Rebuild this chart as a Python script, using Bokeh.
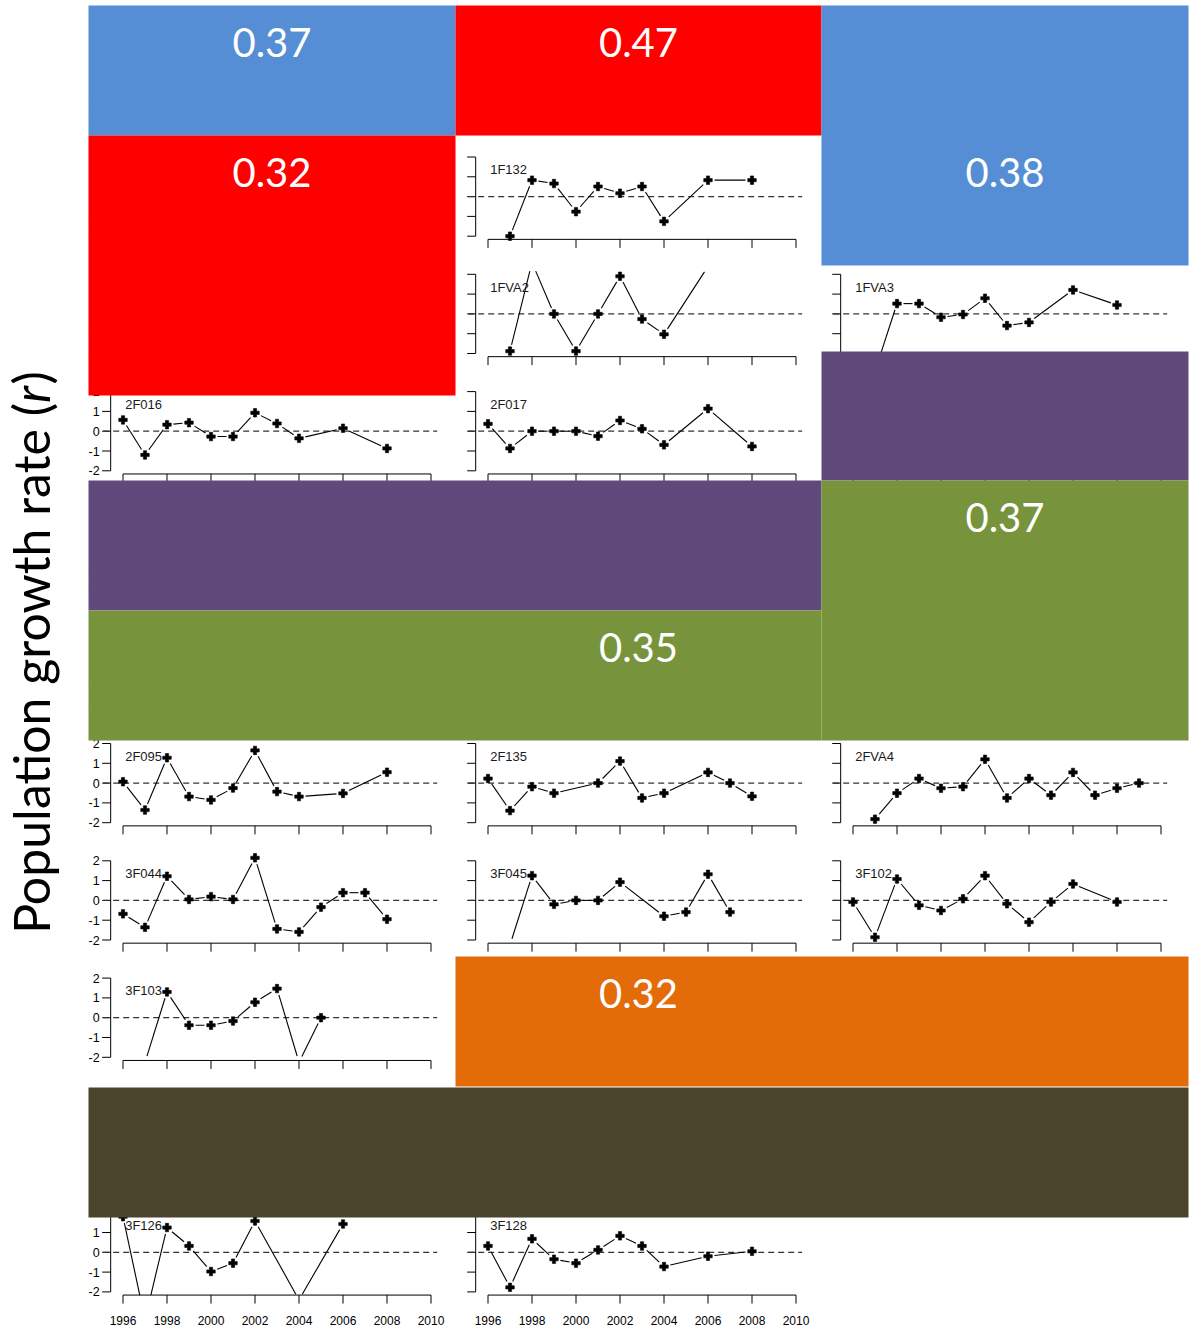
import math
from bokeh.plotting import figure
from bokeh.models import Range1d
from bokeh.core.properties import value
from bokeh.embed import file_html
from bokeh.resources import INLINE

# ---------------- data ----------------
YEARS_1F132 = [1997, 1998, 1999, 2000, 2001, 2002, 2003, 2004, 2006, 2008]
R_1F132 = [-2.0, 0.83, 0.66, -0.76, 0.51, 0.17, 0.51, -1.25, 0.83, 0.83]

YEARS_1FVA2 = [1997, 1998, 1999, 2000, 2001, 2002, 2003, 2004, 2006]
R_1FVA2 = [-1.88, 2.6, 0.0, -1.88, 0.0, 1.9, -0.26, -1.03, 2.4]

YEARS_1FVA3 = [1997, 1998, 1999, 2000, 2001, 2002, 2003, 2004, 2006, 2008]
R_1FVA3 = [-2.9, 0.52, 0.52, -0.17, -0.03, 0.79, -0.59, -0.43, 1.21, 0.45]

YEARS_2F016 = [1996, 1997, 1998, 1999, 2000, 2001, 2002, 2003, 2004, 2006, 2008]
R_2F016 = [0.57, -1.2, 0.33, 0.43, -0.27, -0.27, 0.93, 0.39, -0.36, 0.15, -0.87]

YEARS_2F017 = [1996, 1997, 1998, 1999, 2000, 2001, 2002, 2003, 2004, 2006, 2008]
R_2F017 = [0.37, -0.87, 0.0, 0.0, 0.0, -0.25, 0.54, 0.12, -0.69, 1.14, -0.77]

YEARS_2F095 = [1996, 1997, 1998, 1999, 2000, 2001, 2002, 2003, 2004, 2006, 2008]
R_2F095 = [0.07, -1.36, 1.28, -0.68, -0.85, -0.25, 1.65, -0.43, -0.68, -0.52, 0.55]

YEARS_2F135 = [1996, 1997, 1998, 1999, 2001, 2002, 2003, 2004, 2006, 2007, 2008]
R_2F135 = [0.23, -1.39, -0.18, -0.51, 0.0, 1.11, -0.75, -0.51, 0.54, 0.0, -0.67]

YEARS_2FVA4 = [1997, 1998, 1999, 2000, 2001, 2002, 2003, 2004, 2005, 2006, 2007, 2008, 2009]
R_2FVA4 = [-1.82, -0.51, 0.23, -0.26, -0.18, 1.2, -0.75, 0.23, -0.61, 0.54, -0.61, -0.26, 0.0]

YEARS_3F044 = [1996, 1997, 1998, 1999, 2000, 2001, 2002, 2003, 2004, 2005, 2006, 2007, 2008]
R_3F044 = [-0.68, -1.36, 1.22, 0.05, 0.19, 0.05, 2.15, -1.44, -1.59, -0.34, 0.39, 0.39, -0.95]

YEARS_3F045 = [1997, 1998, 1999, 2000, 2001, 2002, 2004, 2005, 2006, 2007]
R_3F045 = [-2.25, 1.25, -0.2, 0.0, 0.0, 0.92, -0.8, -0.59, 1.32, -0.59]

YEARS_3F102 = [1996, 1997, 1998, 1999, 2000, 2001, 2002, 2003, 2004, 2005, 2006, 2008]
R_3F102 = [-0.08, -1.86, 1.08, -0.25, -0.51, 0.08, 1.25, -0.17, -1.1, -0.08, 0.83, -0.08]

YEARS_3F103 = [1997, 1998, 1999, 2000, 2001, 2002, 2003, 2004, 2005]
R_3F103 = [-2.25, 1.3, -0.38, -0.38, -0.17, 0.78, 1.47, -2.25, 0.0]

YEARS_3F126 = [1996, 1997, 1998, 1999, 2000, 2001, 2002, 2004, 2006]
R_3F126 = [1.8, -3.4, 1.25, 0.32, -0.97, -0.55, 1.58, -2.4, 1.43]

YEARS_3F128 = [1996, 1997, 1998, 1999, 2000, 2001, 2002, 2003, 2004, 2006, 2008]
R_3F128 = [0.32, -1.77, 0.68, -0.35, -0.55, 0.12, 0.83, 0.32, -0.72, -0.2, 0.05]

PANEL_NAMES = ["1F132", "1FVA2", "1FVA3", "2F016", "2F017", "2F095", "2F135",
               "2FVA4", "3F044", "3F045", "3F102", "3F103", "3F126", "3F128"]
PANEL_YEARS = [YEARS_1F132, YEARS_1FVA2, YEARS_1FVA3, YEARS_2F016, YEARS_2F017,
               YEARS_2F095, YEARS_2F135, YEARS_2FVA4, YEARS_3F044, YEARS_3F045,
               YEARS_3F102, YEARS_3F103, YEARS_3F126, YEARS_3F128]
PANEL_R = [R_1F132, R_1FVA2, R_1FVA3, R_2F016, R_2F017, R_2F095, R_2F135,
           R_2FVA4, R_3F044, R_3F045, R_3F102, R_3F103, R_3F126, R_3F128]
# grid slot (row, column) of each named panel
PANEL_ROW = [1, 2, 2, 3, 3, 6, 6, 6, 7, 7, 7, 8, 10, 10]
PANEL_COL = [1, 1, 2, 0, 1, 0, 1, 2, 0, 1, 2, 0, 0, 1]

Y_TICKS = [-2, -1, 0, 1, 2]
Y_TICK_LABELS = ["-2", "-1", "0", "1", "2"]
X_TICKS = [1996, 1998, 2000, 2002, 2004, 2006, 2008, 2010]
X_TICK_LABELS = ["1996", "1998", "2000", "2002", "2004", "2006", "2008", "2010"]

# overlay tiles with correlation values
BOX_LEFT = [88, 455, 821, 88, 821, 88, 821, 88, 455, 88]
BOX_RIGHT = [455, 821, 1188, 455, 1188, 821, 1188, 821, 1188, 1188]
BOX_TOP = [5, 5, 5, 135, 351, 480, 480, 610, 956, 1087]
BOX_BOTTOM = [135, 135, 265, 395, 480, 610, 740, 740, 1086, 1217]
BOX_COLOR = ["#558ED5", "#FF0000", "#558ED5", "#FF0000", "#604A7B", "#604A7B",
             "#77933C", "#77933C", "#E36C09", "#4A452A"]

VALUE_TEXT = ["0.37", "0.47", "0.32", "0.38", "0.37", "0.35", "0.32"]
VALUE_COL = [0, 1, 0, 2, 2, 1, 1]
VALUE_TILE_TOP = [5, 5, 135, 135, 480, 610, 956]

# ---------------- layout ----------------
W, H = 1191, 1327
PX_PER_YEAR = 22.0
PX_PER_UNIT = 19.8
COL_X1996 = [122.5, 487.5, 852.5]
COL_CENTER = [271.5, 638.0, 1004.5]
ROW_Y0 = [78.8 + 117.3 * i for i in range(11)]
N_ROWS = 11
X_LO, X_HI = 1996, 2010
XPAD = 0.04 * (X_HI - X_LO)
Y_LIM = 2.16
TICK_PX = 8.5
GAP_PX = 6.5
TICK_FONT = value("Liberation Sans")

p = figure(width=W, height=H, x_range=Range1d(0, W), y_range=Range1d(H, 0),
           output_backend="svg", toolbar_location=None, min_border=0,
           x_axis_type=None, y_axis_type=None, outline_line_color=None,
           background_fill_color="white", border_fill_color="white")
p.grid.visible = False

xr = {}
for c, x0 in enumerate(COL_X1996):
    xr[f"c{c}"] = Range1d(X_LO - x0 / PX_PER_YEAR, X_LO + (W - x0) / PX_PER_YEAR)
yr = {}
for r, y0 in enumerate(ROW_Y0):
    yr[f"r{r}"] = Range1d((y0 - H) / PX_PER_UNIT, y0 / PX_PER_UNIT)
p.extra_x_ranges = xr
p.extra_y_ranges = yr

slots = [(r, c) for r in range(N_ROWS) for c in range(3) if not (r == N_ROWS - 1 and c == 2)]

x_axis_pos = X_LO - XPAD
for (r, c) in slots:
    kw = dict(x_range_name=f"c{c}", y_range_name=f"r{r}")
    ny = len(Y_TICKS)
    nx = len(X_TICKS)
    # y axis
    p.segment(x0=[x_axis_pos], y0=[Y_TICKS[0]], x1=[x_axis_pos], y1=[Y_TICKS[-1]],
              line_color="black", line_width=1, **kw)
    p.segment(x0=[x_axis_pos] * ny, y0=Y_TICKS,
              x1=[x_axis_pos - TICK_PX / PX_PER_YEAR] * ny, y1=Y_TICKS,
              line_color="black", line_width=1, **kw)
    if c == 0:
        p.text(x=[x_axis_pos - (TICK_PX + 2.5) / PX_PER_YEAR] * ny, y=Y_TICKS,
               text=Y_TICK_LABELS, text_align="right", text_baseline="middle",
               text_font=TICK_FONT, text_font_size="12.5px", text_color="black", **kw)
    # x axis
    yb = -Y_LIM
    p.segment(x0=[X_TICKS[0]], y0=[yb], x1=[X_TICKS[-1]], y1=[yb],
              line_color="black", line_width=1, **kw)
    p.segment(x0=X_TICKS, y0=[yb] * nx, x1=X_TICKS, y1=[yb - TICK_PX / PX_PER_UNIT] * nx,
              line_color="black", line_width=1, **kw)
    if r == N_ROWS - 1:
        p.text(x=X_TICKS, y=[yb - 25.5 / PX_PER_UNIT] * nx, text=X_TICK_LABELS,
               text_align="center", text_baseline="middle",
               text_font=TICK_FONT, text_font_size="12px", text_color="black", **kw)


def clip_y(xa, ya, xb, yb, lim):
    t0, t1 = 0.0, 1.0
    dy = yb - ya
    if dy == 0:
        if abs(ya) > lim:
            return None
    else:
        ta = (lim - ya) / dy
        tb = (-lim - ya) / dy
        t0 = max(t0, min(ta, tb))
        t1 = min(t1, max(ta, tb))
        if t0 >= t1:
            return None
    return (xa + t0 * (xb - xa), ya + t0 * dy, xa + t1 * (xb - xa), ya + t1 * dy)


for name, yrs, vals, r, c in zip(PANEL_NAMES, PANEL_YEARS, PANEL_R, PANEL_ROW, PANEL_COL):
    kw = dict(x_range_name=f"c{c}", y_range_name=f"r{r}")
    # dashed zero line
    p.segment(x0=[X_LO - 0.9], y0=[0], x1=[X_HI + 0.28], y1=[0],
              line_color="#333333", line_width=1.3, line_dash="6 4", **kw)
    # connecting lines with gaps around the points (R type="b")
    sx0, sy0, sx1, sy1 = [], [], [], []
    for xa, ya, xb, yb2 in zip(yrs[:-1], vals[:-1], yrs[1:], vals[1:]):
        L = math.hypot((xb - xa) * PX_PER_YEAR, (yb2 - ya) * PX_PER_UNIT)
        if L <= 2 * GAP_PX:
            continue
        f = GAP_PX / L
        ax, ay = xa + f * (xb - xa), ya + f * (yb2 - ya)
        bx, by = xb - f * (xb - xa), yb2 - f * (yb2 - ya)
        seg = clip_y(ax, ay, bx, by, Y_LIM)
        if seg is None:
            continue
        sx0.append(seg[0]); sy0.append(seg[1]); sx1.append(seg[2]); sy1.append(seg[3])
    p.segment(x0=sx0, y0=sy0, x1=sx1, y1=sy1, line_color="black", line_width=1.1, **kw)
    px = [x for x, v in zip(yrs, vals) if abs(v) <= Y_LIM]
    py = [v for v in vals if abs(v) <= Y_LIM]
    p.scatter(x=px, y=py, marker="plus", size=8.5, fill_color="black",
              line_color="black", line_width=0.6, **kw)
    p.text(x=[X_LO + 0.1], y=[1.35], text=[name], text_align="left", text_baseline="middle",
           text_font=TICK_FONT, text_font_size="13px", text_color="#1a1a1a", **kw)

# overlay tiles
p.quad(left=BOX_LEFT, right=BOX_RIGHT, top=BOX_TOP, bottom=BOX_BOTTOM,
       fill_color=BOX_COLOR, line_color=None)
p.text(x=[COL_CENTER[c] for c in VALUE_COL], y=[t + 37 for t in VALUE_TILE_TOP],
       text=VALUE_TEXT, text_align="center", text_baseline="middle",
       text_font=value("Lato"), text_font_size="40px", text_color="white")

# rotated y title with italic r
TITLE_X = 30
TITLE_SPLIT_Y = 402.5
TITLE_SIZE = "50px"
TITLE_FONT = value("Lato")
p.text(x=[TITLE_X], y=[TITLE_SPLIT_Y], text=["Population growth rate ("], angle=math.pi / 2,
       text_align="right", text_baseline="middle", text_font=TITLE_FONT,
       text_font_size=TITLE_SIZE, text_color="black")
p.text(x=[TITLE_X], y=[TITLE_SPLIT_Y], text=["r"], angle=math.pi / 2,
       text_align="left", text_baseline="middle", text_font=TITLE_FONT,
       text_font_style="italic", text_font_size=TITLE_SIZE, text_color="black")
p.text(x=[TITLE_X], y=[TITLE_SPLIT_Y - 18.5], text=[")"], angle=math.pi / 2,
       text_align="left", text_baseline="middle", text_font=TITLE_FONT,
       text_font_size=TITLE_SIZE, text_color="black")

open("out.html", "w").write(file_html(p, INLINE))
